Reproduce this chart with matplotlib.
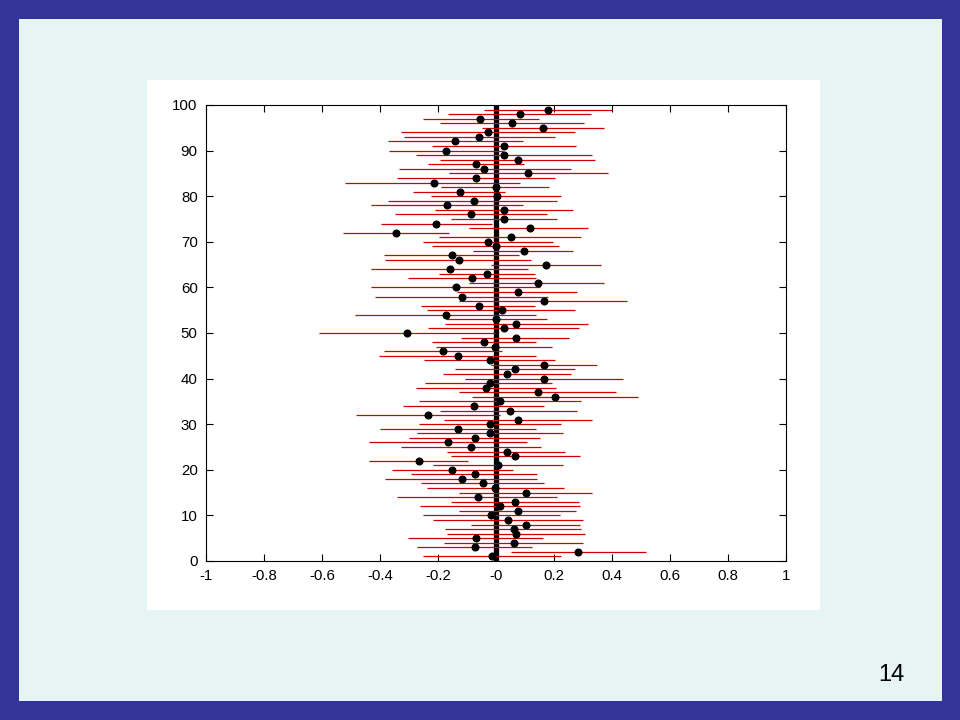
import numpy as np
import matplotlib.pyplot as plt
from matplotlib.patches import Rectangle

# 99 simulated confidence intervals, listed from the top row (y=99) down to y=1
estimate = [0.180, 0.084, -0.054, 0.056, 0.163, -0.026, -0.057, -0.140, 0.029, -0.171,
            0.029, 0.077, -0.068, -0.040, 0.111, -0.068, -0.213, 0.001, -0.123, 0.002,
            -0.076, -0.168, 0.029, -0.085, 0.029, -0.206, 0.118, -0.344, 0.053, -0.026,
            0.000, 0.098, -0.153, -0.126, 0.174, -0.157, -0.030, -0.082, 0.146, -0.137,
            0.077, -0.116, 0.164, -0.057, 0.022, -0.171, 0.000, 0.070, 0.029, -0.306,
            0.070, -0.040, -0.002, -0.182, -0.130, -0.020, 0.164, 0.067, 0.039, 0.167,
            -0.020, -0.033, 0.146, 0.205, 0.015, -0.075, 0.049, -0.233, 0.077, -0.020,
            -0.130, -0.020, -0.071, -0.164, -0.085, 0.039, 0.067, -0.264, 0.008, -0.151,
            -0.071, -0.116, -0.044, -0.003, 0.105, -0.061, 0.067, 0.015, 0.077, -0.016,
            0.043, 0.105, 0.063, 0.070, -0.068, 0.063, -0.071, 0.284, -0.013]
lower = [-0.040, -0.164, -0.251, -0.193, -0.049, -0.326, -0.316, -0.372, -0.220, -0.368,
         -0.276, -0.193, -0.233, -0.334, -0.162, -0.341, -0.520, -0.189, -0.285, -0.224,
         -0.372, -0.431, -0.210, -0.348, -0.155, -0.397, -0.092, -0.528, -0.197, -0.251,
         -0.220, -0.078, -0.385, -0.382, -0.017, -0.430, -0.197, -0.302, -0.092, -0.430,
         -0.133, -0.416, -0.126, -0.257, -0.237, -0.485, -0.174, -0.175, -0.233, -0.609,
         -0.120, -0.220, -0.206, -0.385, -0.402, -0.248, -0.018, -0.141, -0.182, -0.106,
         -0.244, -0.275, -0.126, -0.082, -0.264, -0.320, -0.193, -0.482, -0.179, -0.264,
         -0.399, -0.271, -0.299, -0.437, -0.326, -0.169, -0.155, -0.437, -0.216, -0.357,
         -0.292, -0.382, -0.257, -0.237, -0.126, -0.340, -0.155, -0.261, -0.126, -0.251,
         -0.216, -0.085, -0.175, -0.168, -0.302, -0.179, -0.271, 0.053, -0.251]
upper = [0.399, 0.326, 0.147, 0.302, 0.371, 0.271, 0.202, 0.092, 0.275, 0.023,
         0.330, 0.340, 0.097, 0.257, 0.385, 0.202, 0.082, 0.182, 0.030, 0.223,
         0.209, 0.092, 0.264, 0.176, 0.209, -0.015, 0.318, -0.163, 0.292, 0.195,
         0.216, 0.264, 0.078, 0.120, 0.361, 0.109, 0.136, 0.137, 0.371, 0.153,
         0.278, 0.178, 0.451, 0.136, 0.271, 0.137, 0.175, 0.316, 0.285, -0.002,
         0.251, 0.137, 0.192, 0.022, 0.137, 0.202, 0.347, 0.271, 0.257, 0.437,
         0.192, 0.206, 0.413, 0.490, 0.292, 0.164, 0.278, 0.015, 0.330, 0.223,
         0.137, 0.230, 0.151, 0.106, 0.154, 0.237, 0.289, -0.095, 0.230, 0.057,
         0.140, 0.140, 0.164, 0.233, 0.330, 0.209, 0.285, 0.289, 0.275, 0.220,
         0.299, 0.289, 0.292, 0.306, 0.161, 0.299, 0.123, 0.516, 0.223]
row = np.arange(99, 0, -1)

true_mean = 0.0
x_ticks = np.round(np.arange(-1, 1.01, 0.2), 1)
y_ticks = np.arange(0, 101, 10)

fig = plt.figure(figsize=(9.6, 7.2), dpi=100)
fig.patch.set_facecolor("#333399")

# slide panel and white figure area
fig.patches.append(Rectangle((19 / 960, 19 / 720), 923 / 960, 682 / 720,
                             transform=fig.transFigure, facecolor="#E6F4F4",
                             edgecolor="none", zorder=-3))
fig.patches.append(Rectangle((147 / 960, 110 / 720), 673 / 960, 530 / 720,
                             transform=fig.transFigure, facecolor="white",
                             edgecolor="none", zorder=-2))

ax = fig.add_axes([206 / 960, 159 / 720, 580 / 960, 456 / 720])
ax.set_zorder(2)
ax.set_facecolor("white")

ax.plot([true_mean, true_mean], [0, 100], color="black", lw=3.8, zorder=1,
        solid_capstyle="butt")
ax.hlines(row, lower, upper, color="#D00000", lw=0.9, zorder=2)
ax.plot(estimate, row, "o", color="black", ms=4.8, zorder=3)

ax.set_xlim(-1, 1)
ax.set_ylim(0, 100)
ax.set_xticks(x_ticks)
ax.set_xticklabels(["%g" % t for t in x_ticks])
ax.set_yticks(y_ticks)
ax.tick_params(direction="in", length=5, width=0.8, top=True, right=True,
               labelsize=10.8, pad=6)
for lab in ax.get_xticklabels() + ax.get_yticklabels():
    lab.set_fontfamily("Liberation Sans")
for s in ax.spines.values():
    s.set_linewidth(0.8)

fig.text(891 / 960, 1 - 675 / 720, "14", fontsize=17, family="Liberation Sans",
         ha="center", va="center")

plt.savefig("out.png", dpi=100, facecolor=fig.get_facecolor())
plt.close()
